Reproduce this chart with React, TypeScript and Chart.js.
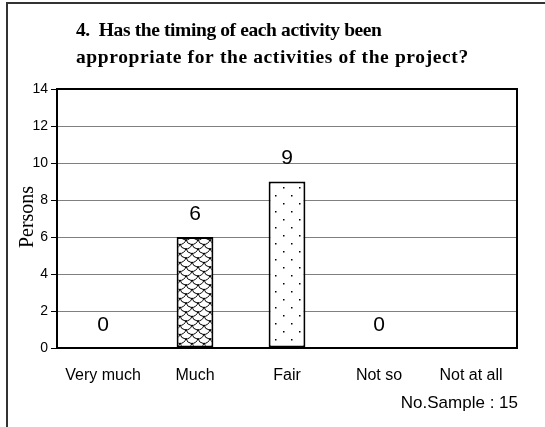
import React, { useEffect, useRef } from "react";
import { Chart, registerables } from "chart.js";

Chart.register(...registerables);

const categories = ["Very much", "Much", "Fair", "Not so", "Not at all"];
const persons = [0, 6, 9, 0, 0];
const valueLabels = ["0", "6", "9", "0", ""];
const yTicks = [0, 2, 4, 6, 8, 10, 12, 14];
const titleLines = [
  "4.  Has the timing of each activity been",
  "appropriate for the activities of the project?",
];
const yTitle = "Persons";
const sampleNote = "No.Sample : 15";

const SANS = "Arial, 'Liberation Sans', sans-serif";
const SERIF = "'Times New Roman', 'Liberation Serif', serif";

function makeScalePattern(): CanvasPattern | string {
  const w = 12;
  const h = 9;
  const c = document.createElement("canvas");
  c.width = w;
  c.height = h;
  const ctx = c.getContext("2d");
  if (!ctx) return "#fff";
  ctx.fillStyle = "#fff";
  ctx.fillRect(0, 0, w, h);
  ctx.strokeStyle = "#000";
  ctx.lineWidth = 1;
  const r = 6;
  const centers = [
    [6, 0],
    [0, h / 2],
    [12, h / 2],
    [6, h],
    [0, -h / 2],
    [12, -h / 2],
  ];
  centers.forEach(([cx, cy]) => {
    ctx.beginPath();
    ctx.arc(cx, cy, r, 0.15, Math.PI - 0.15);
    ctx.stroke();
  });
  const p = ctx.createPattern(c, "repeat");
  return p || "#fff";
}

function makeDotPattern(): CanvasPattern | string {
  const c = document.createElement("canvas");
  c.width = 16;
  c.height = 16;
  const ctx = c.getContext("2d");
  if (!ctx) return "#fff";
  ctx.fillStyle = "#fff";
  ctx.fillRect(0, 0, 16, 16);
  ctx.fillStyle = "#000";
  ctx.fillRect(3, 3, 1.5, 1.5);
  ctx.fillRect(11, 11, 1.5, 1.5);
  const p = ctx.createPattern(c, "repeat");
  return p || "#fff";
}

function fitText(ctx: any, text: string, x: number, y: number, target: number) {
  ctx.letterSpacing = "0px";
  const w = ctx.measureText(text).width;
  const n = Math.max(1, text.length - 1);
  const ls = (target - w) / n;
  ctx.letterSpacing = ls.toFixed(2) + "px";
  ctx.fillText(text, x, y);
  ctx.letterSpacing = "0px";
}

const decorPlugin = {
  id: "decor",
  afterDraw(chart: any) {
    const { ctx, chartArea } = chart;
    ctx.save();
    // outer frame
    ctx.strokeStyle = "#333";
    ctx.lineWidth = 2;
    ctx.beginPath();
    ctx.moveTo(7, 430);
    ctx.lineTo(7, 3);
    ctx.lineTo(548, 3);
    ctx.stroke();
    // plot border
    ctx.strokeStyle = "#000";
    ctx.lineWidth = 2;
    ctx.strokeRect(
      chartArea.left,
      chartArea.top,
      chartArea.right - chartArea.left,
      chartArea.bottom - chartArea.top
    );
    // title
    ctx.fillStyle = "#000";
    ctx.font = "bold 19.5px " + SERIF;
    ctx.textAlign = "left";
    ctx.textBaseline = "alphabetic";
    fitText(ctx, titleLines[0], 76, 36, 306);
    fitText(ctx, titleLines[1], 76, 63, 392);
    // y title
    ctx.save();
    ctx.translate(28, 217);
    ctx.rotate(-Math.PI / 2);
    ctx.font = "20px " + SERIF;
    ctx.textAlign = "center";
    ctx.textBaseline = "middle";
    ctx.fillText(yTitle, 0, 0);
    ctx.restore();
    // value labels
    const meta = chart.getDatasetMeta(0);
    ctx.font = "21px " + SANS;
    ctx.textAlign = "center";
    ctx.textBaseline = "middle";
    meta.data.forEach((bar: any, i: number) => {
      const t = valueLabels[i];
      if (t) ctx.fillText(t, bar.x, bar.y - 23);
    });
    // sample note
    ctx.font = "17px " + SANS;
    ctx.textAlign = "right";
    ctx.fillText(sampleNote, 518, 403);
    ctx.restore();
  },
};

export default function App() {
  const ref = useRef<HTMLCanvasElement | null>(null);
  useEffect(() => {
    document.body.style.margin = "0";
    const canvas = ref.current;
    if (!canvas) return;
    const scalePat = makeScalePattern();
    const dotPat = makeDotPattern();
    const fills = ["#fff", scalePat, dotPat, "#fff", "#fff"];
    const chart = new Chart(canvas, {
      type: "bar",
      data: {
        labels: categories,
        datasets: [
          {
            data: persons,
            backgroundColor: fills as any,
            borderColor: "#000",
            borderWidth: 2,
            borderSkipped: false,
            barPercentage: 0.4,
            categoryPercentage: 1,
          },
        ],
      },
      options: {
        responsive: false,
        animation: false,
        layout: { padding: { left: 8, right: 28, top: 89, bottom: 39 } },
        plugins: {
          legend: { display: false },
          title: { display: false },
          tooltip: { enabled: false },
        },
        scales: {
          x: {
            grid: { display: false },
            border: { display: false },
            ticks: {
              color: "#000",
              font: { family: SANS, size: 16 },
              padding: 10,
              maxRotation: 0,
            },
            afterFit: (s: any) => {
              s.height = 40;
            },
          },
          y: {
            min: 0,
            max: 14,
            afterBuildTicks: (s: any) => {
              s.ticks = yTicks.map((v) => ({ value: v }));
            },
            grid: {
              color: "#808080",
              lineWidth: 1,
              tickLength: 6,
              tickColor: "#000",
            },
            border: { display: false },
            ticks: {
              color: "#000",
              font: { family: SANS, size: 14 },
              padding: 3,
            },
            afterFit: (s: any) => {
              s.width = 49;
            },
          },
        },
      },
      plugins: [decorPlugin],
    });
    return () => chart.destroy();
  }, []);
  return (
    <div style={{ width: 545, height: 427 }}>
      <canvas ref={ref} width={545} height={427} style={{ display: "block" }} />
    </div>
  );
}
